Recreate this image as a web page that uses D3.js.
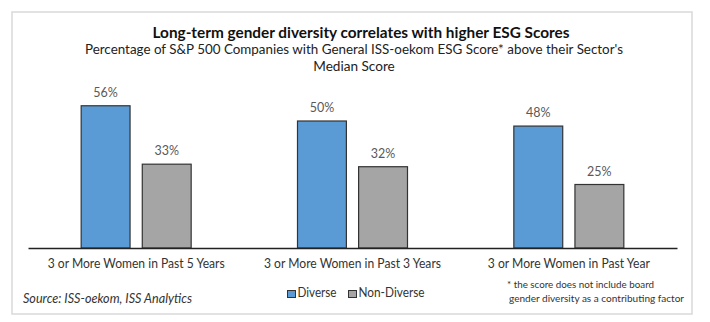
<!DOCTYPE html>
<html>
<head>
<meta charset="utf-8">
<script src="https://cdn.jsdelivr.net/npm/d3@7"></script>
<style>
  body { margin: 0; background: #fff; }
  text { font-family: Lato, "Open Sans", sans-serif; }
</style>
</head>
<body>
<div id="wrapper"></div>
<script>
const categories = ['3 or More Women in Past 5 Years', '3 or More Women in Past 3 Years', '3 or More Women in Past Year']
const seriesNames = ['Diverse', 'Non-Diverse']
const diverse = [56, 50, 48]
const nonDiverse = [33, 32, 25]

const colors = { 'Diverse': '#5b9bd5', 'Non-Diverse': '#a5a5a5' }

const dimensions = { width: 710, height: 322 }

// squeeze a text to the width it has in the reference (Calibri is narrower than Lato)
function squeeze(sel, wanted) {
  sel.attr('textLength', wanted).attr('lengthAdjust', 'spacingAndGlyphs')
}

const svg = d3.select('#wrapper').append('svg')
  .attr('width', dimensions.width)
  .attr('height', dimensions.height)

// outer frame
svg.append('rect')
  .attr('x', 12).attr('y', 12)
  .attr('width', 680).attr('height', 302)
  .attr('fill', '#fff')
  .attr('stroke', '#d9d9d9')
  .attr('stroke-width', 1.5)

// titles
const title = svg.append('text')
  .attr('x', 361).attr('y', 38)
  .attr('text-anchor', 'middle')
  .style('font-size', '15.5px').style('font-weight', 'bold').attr('fill', '#111')
  .text('Long-term gender diversity correlates with higher ESG Scores')
squeeze(title, 417)

const subtitle = svg.append('text')
  .attr('x', 354).attr('y', 54)
  .attr('text-anchor', 'middle')
  .style('font-size', '13.6px').attr('fill', '#222')
  .text('Percentage of S&P 500 Companies with General ISS-oekom ESG Score* above their Sector\'s')
squeeze(subtitle, 538)

svg.append('text')
  .attr('x', 354).attr('y', 71)
  .attr('text-anchor', 'middle')
  .style('font-size', '13.6px').attr('fill', '#222')
  .text('Median Score')

// scales
const x0 = d3.scaleBand()
  .domain(categories)
  .range([28, 677])

const x1 = d3.scaleBand()
  .domain(seriesNames)
  .range([0, 110])
  .paddingInner(0.2)

const yScale = d3.scaleLinear()
  .domain([0, 60])
  .range([248, 95.6])

const rows = categories.map((c, i) => ({
  category: c,
  values: [
    { key: 'Diverse', value: diverse[i] },
    { key: 'Non-Diverse', value: nonDiverse[i] }
  ]
}))

const groups = svg.append('g').selectAll('g')
  .data(rows)
  .join('g')
  .attr('transform', d => `translate(${x0(d.category) + (x0.bandwidth() - 110) / 2},0)`)

groups.selectAll('rect')
  .data(d => d.values)
  .join('rect')
  .attr('x', d => x1(d.key))
  .attr('y', d => yScale(d.value))
  .attr('width', x1.bandwidth())
  .attr('height', d => yScale(0) - yScale(d.value))
  .attr('fill', d => colors[d.key])
  .attr('stroke', '#333')
  .attr('stroke-width', 1.2)

groups.selectAll('.val')
  .data(d => d.values)
  .join('text')
  .attr('class', 'val')
  .attr('x', d => x1(d.key) + x1.bandwidth() / 2)
  .attr('y', d => yScale(d.value) - 9)
  .attr('text-anchor', 'middle')
  .style('font-size', '12.5px')
  .attr('fill', '#595959')
  .text(d => d.value + '%')

// baseline axis
const xAxis = svg.append('g')
  .attr('transform', `translate(0,${yScale(0)})`)
  .call(d3.axisBottom(x0).tickSize(0).tickPadding(11))
xAxis.select('.domain').attr('stroke', '#222').attr('stroke-width', 1.5)
xAxis.selectAll('text')
  .style('font-family', 'Lato, "Open Sans", sans-serif')
  .style('font-size', '12.8px')
  .attr('fill', '#333')
  .each(function (d, i) { squeeze(d3.select(this), [177, 177, 162][i]) })

// legend
const legend = svg.append('g')
  .attr('transform', 'translate(287,297)')
const legendX = [0, 61]
seriesNames.forEach((s, i) => {
  const g = legend.append('g').attr('transform', `translate(${legendX[i]},0)`)
  g.append('rect')
    .attr('x', 0.5).attr('y', -6.5)
    .attr('width', 8).attr('height', 7)
    .attr('fill', colors[s]).attr('stroke', '#333')
  const t = g.append('text')
    .attr('x', 10.5).attr('y', 0)
    .style('font-size', '12.8px').attr('fill', '#333')
    .text(s)
  squeeze(t, [39, 66][i])
})

// source
const source = svg.append('text')
  .attr('x', 23).attr('y', 303)
  .style('font-size', '12.8px').style('font-style', 'italic').attr('fill', '#333')
  .text('Source: ISS-oekom, ISS Analytics')
squeeze(source, 169)

// footnote
const foot = ['* the score does not include board', 'gender diversity as a contributing factor']
svg.append('g').selectAll('text')
  .data(foot)
  .join('text')
  .attr('x', (d, i) => [507, 509][i])
  .attr('y', (d, i) => 288 + i * 14)
  .style('font-size', '10.4px').attr('fill', '#333')
  .text(d => d)
  .each(function (d, i) { squeeze(d3.select(this), [147, 175][i]) })
</script>
</body>
</html>
